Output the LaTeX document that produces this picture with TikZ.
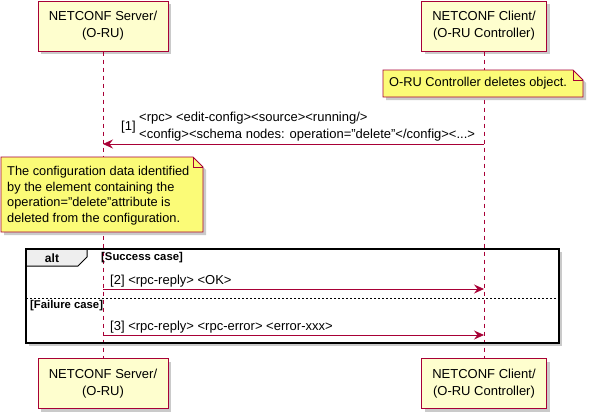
\documentclass[tikz,border=0pt]{standalone}
\usepackage{fontspec}
\setmainfont{Liberation Sans}
\usetikzlibrary{positioning,shadows,arrows.meta}
\definecolor{umlred}{HTML}{A80036}
\definecolor{partfill}{HTML}{FEFECE}
\definecolor{notefill}{HTML}{FBFB77}
\definecolor{tabfill}{HTML}{EEEEEE}
\begin{document}
\begin{tikzpicture}[x=1pt, y=-1pt,
		umlshadow/.style={drop shadow={shadow xshift=3pt, shadow yshift=-3pt, fill=black!35, opacity=0.6}},
		participant/.style={draw=umlred, fill=partfill, line width=1pt, minimum height=50pt, align=center, font=\fontsize{13}{17}\selectfont, umlshadow},
		lifeline/.style={umlred, line width=0.8pt, dash pattern=on 4pt off 4pt},
		msg/.style={umlred, line width=0.8pt, -{Stealth[length=10pt, width=9pt, inset=3.5pt]}},
		msgtext/.style={font=\fontsize{13}{16.5}\selectfont, inner sep=0pt, anchor=west, align=left},
		notebox/.style={draw=umlred, fill=notefill, line width=0.8pt},
		notetext/.style={font=\fontsize{12.8}{15.5}\selectfont, inner sep=0pt, anchor=west, align=left},
		grouptext/.style={font=\bfseries\fontsize{11.3}{13}\selectfont, inner sep=0pt, anchor=west}]
	\useasboundingbox (0,0) rectangle (589,415);
	% alt frame
	\draw [black, line width=1.6pt, fill=white, umlshadow] (26,249) rectangle (559,343);
	\node [participant, minimum width=130pt] (srvtop) at (103,26) {NETCONF Server/\\(O-RU)};
	\node [participant, minimum width=125pt] (clitop) at (484,26) {NETCONF Client/\\(O-RU Controller)};
	\node [participant, minimum width=130pt] (srvbot) at (103,383.5) {NETCONF Server/\\(O-RU)};
	\node [participant, minimum width=125pt] (clibot) at (484,383.5) {NETCONF Client/\\(O-RU Controller)};
	\draw [lifeline] (srvtop) -- (srvbot);
	\draw [lifeline] (clitop) -- (clibot);
	% note on client
	\filldraw [notebox, umlshadow] (383,70) -- (573,70) -- (583,80) -- (583,97) -- (383,97) -- cycle;
	\draw [notebox, fill=none] (573,70) -- (573,80) -- (583,80);
	\node [notetext] (note1) at (389,83.5) {O-RU Controller deletes object.};
	% message 1
	\coordinate (s1) at (srvtop |- 0,144);
	\coordinate (c1) at (clitop |- 0,144);
	\draw [msg] (c1) -- (s1);
	\node [msgtext] (m1num) at (121,127) {[1]};
	\node [msgtext] (m1txt) at (139,126.5) {<rpc> <edit-config><source><running/>\\<config><schema nodes: operation="delete"</config><...>};
	% note on server
	\filldraw [notebox, umlshadow] (1,157) -- (193,157) -- (203,167) -- (203,232) -- (1,232) -- cycle;
	\draw [notebox, fill=none] (193,157) -- (193,167) -- (203,167);
	\node [notetext] (note2) at (7,195.5) {The configuration data identified\\by the element containing the\\operation="delete"attribute is\\deleted from the configuration.};
	% alt header and cases
	\draw [black, line width=1pt, fill=tabfill] (26,249) -- (87,249) -- (87,257) -- (78,266) -- (26,266) -- cycle;
	\draw [black, line width=1.6pt] (26,249) rectangle (559,343);
	\node [font=\bfseries\fontsize{12}{14}\selectfont, inner sep=0pt] (alt) at (52,258) {alt};
	\node [grouptext] (succ) at (101,258) {[Success case]};
	\coordinate (s2) at (srvtop |- 0,289);
	\coordinate (c2) at (clitop |- 0,289);
	\draw [msg] (s2) -- (c2);
	\node [msgtext] (m2txt) at (110,281) {[2] <rpc-reply> <OK>};
	\draw [black, line width=0.8pt, dash pattern=on 2pt off 2pt] (26,298) -- (559,298);
	\node [grouptext] (fail) at (30,306) {[Failure case]};
	\coordinate (s3) at (srvtop |- 0,335);
	\coordinate (c3) at (clitop |- 0,335);
	\draw [msg] (s3) -- (c3);
	\node [msgtext] (m3txt) at (110,327) {[3] <rpc-reply> <rpc-error> <error-xxx>};
\end{tikzpicture}
\end{document}
